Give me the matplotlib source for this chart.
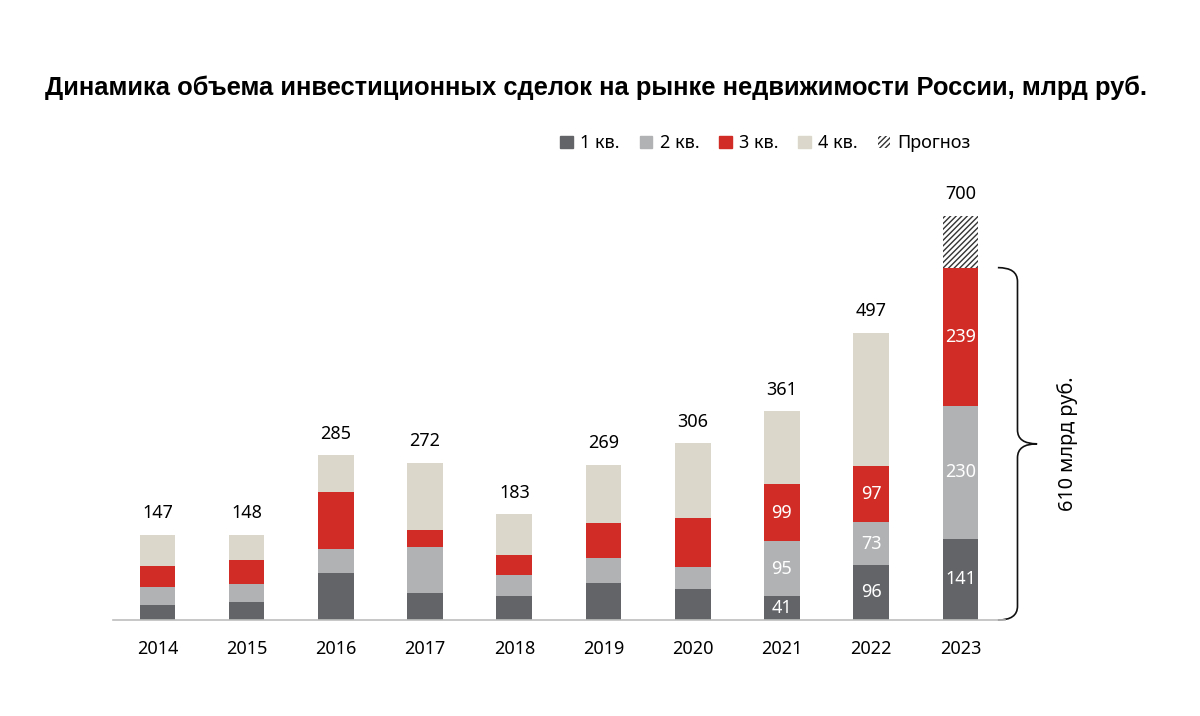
import numpy as np
import matplotlib.pyplot as plt
from matplotlib.patches import Patch, PathPatch
from matplotlib.path import Path

plt.rcParams['font.family'] = ['Noto Sans', 'DejaVu Sans']
plt.rcParams['hatch.linewidth'] = 1.0

years = ["2014", "2015", "2016", "2017", "2018", "2019", "2020", "2021", "2022", "2023"]
q1 = [26, 31, 81, 46, 42, 65, 54, 41, 96, 141]
q2 = [31, 32, 42, 80, 36, 43, 38, 95, 73, 230]
q3 = [37, 41, 98, 30, 35, 60, 85, 99, 97, 239]
q4 = [53, 44, 64, 116, 70, 101, 129, 126, 231, 0]
forecast = [0, 0, 0, 0, 0, 0, 0, 0, 0, 90]
totals = [147, 148, 285, 272, 183, 269, 306, 361, 497, 700]
# years where segments carry their own labels
labelled = ["2021", "2022", "2023"]

colors = ["#636468", "#b1b2b4", "#d12d26", "#dbd7ca"]
names = ["1 кв.", "2 кв.", "3 кв.", "4 кв."]

fig = plt.figure(figsize=(12, 7.16), dpi=100)
ax = fig.add_axes([0.094, 0.134, 0.7435, 0.581])

x = np.arange(len(years))
w = 0.4
bottom = np.zeros(len(years))
for vals, c in zip([q1, q2, q3, q4], colors):
    ax.bar(x, vals, w, bottom=bottom, color=c, edgecolor="none")
    for i, v in enumerate(vals):
        if years[i] in labelled and v > 0 and c != colors[3]:
            ax.text(x[i], bottom[i] + v / 2, str(v), ha="center", va="center",
                    color="white", fontsize=13)
    bottom += np.array(vals)

ax.bar(x, forecast, w, bottom=bottom, color="white", edgecolor="#333333",
       hatch="//////", linewidth=0)

for i, t in enumerate(totals):
    ax.text(x[i], t + 22, str(t), ha="center", va="bottom", fontsize=13)

# brace for 2023 (q1..q3)
y_top = q1[-1] + q2[-1] + q3[-1]
y_mid = y_top / 2
xl, xm, xt = 9.42, 9.64, 9.86
d = 24
verts = [(xl, y_top), (xm, y_top), (xm, y_top - d),
         (xm, y_mid + d), (xm, y_mid), (xt, y_mid),
         (xm, y_mid), (xm, y_mid - d),
         (xm, d), (xm, 0), (xl, 0)]
codes = [Path.MOVETO, Path.CURVE3, Path.CURVE3,
         Path.LINETO, Path.CURVE3, Path.CURVE3,
         Path.CURVE3, Path.CURVE3,
         Path.LINETO, Path.CURVE3, Path.CURVE3]
ax.add_patch(PathPatch(Path(verts, codes), fill=False, lw=1.2, color="#111111", clip_on=False))
ax.text(10.2, y_mid, "%d млрд руб." % y_top, rotation=90, ha="center", va="center",
        fontsize=14.3)

ax.set_xlim(-0.5, 9.5)
ax.set_ylim(0, 720)
ax.set_xticks(x)
ax.set_xticklabels(years, fontsize=13)
ax.tick_params(axis="x", length=0, pad=14)
ax.set_yticks([])
for s in ["top", "right", "left"]:
    ax.spines[s].set_visible(False)
ax.spines["bottom"].set_color("#bdbdbd")
ax.spines["bottom"].set_linewidth(1.2)

handles = [Patch(color=c, label=n) for c, n in zip(colors, names)]
handles.append(Patch(facecolor="white", edgecolor="#333333", hatch="//////", lw=0, label="Прогноз"))
fig.legend(handles=handles, loc="center", bbox_to_anchor=(0.638, 0.80), ncol=5,
           frameon=False, fontsize=13, handlelength=0.7, handleheight=0.7,
           handletextpad=0.4, columnspacing=1.1)

fig.text(0.497, 0.878, "Динамика объема инвестиционных сделок на рынке недвижимости России, млрд руб.",
         ha="center", va="center", fontsize=18.4, fontweight="bold", family="Liberation Sans")

fig.savefig("out.png", dpi=100)
